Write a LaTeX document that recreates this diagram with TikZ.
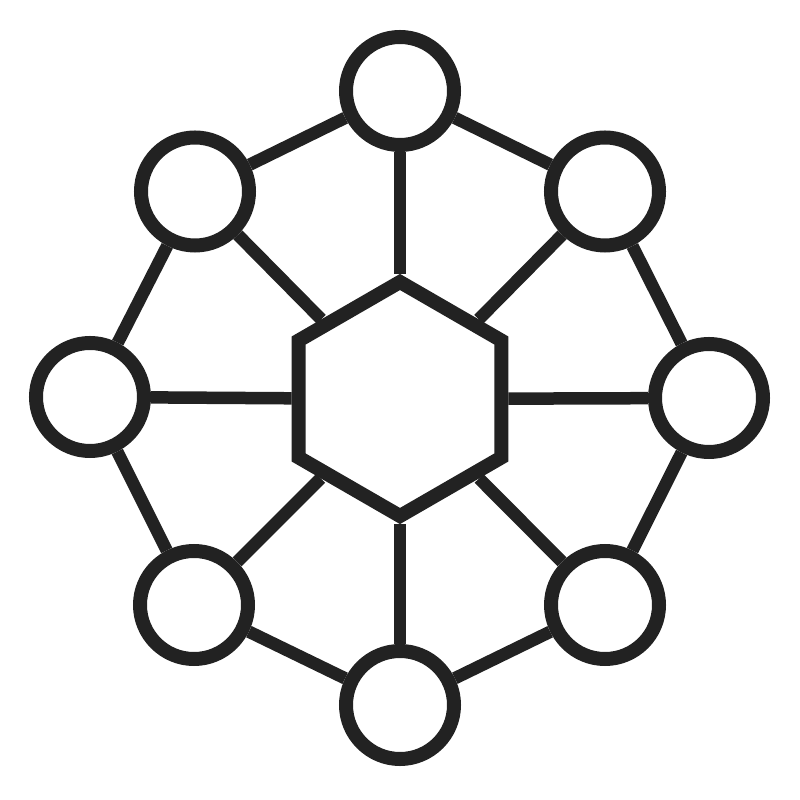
\documentclass[tikz,border=0pt]{standalone}
\usepackage{tikz}
\usetikzlibrary{shapes.geometric}
\definecolor{ink}{RGB}{34,34,34}

\begin{document}
\begin{tikzpicture}[scale=1,
  site/.style={circle,draw=ink,line width=0.14cm,minimum size=1.08cm,inner sep=0pt},
  hub/.style={regular polygon,regular polygon sides=6,shape border rotate=30,draw=ink,line width=0.14cm,minimum size=2.34cm,inner sep=0pt},
  link/.style={draw=ink,line width=0.125cm}]
\useasboundingbox (-4,-4.02) rectangle (4,3.98);
% centre
\node[hub] (hub) at (0,-0.01) {};
% ring of sites
\node[site] (top) at (0,3.07) {};
\node[site] (topright) at (2.05,2.065) {};
\node[site] (right) at (3.09,0) {};
\node[site] (botright) at (2.05,-2.07) {};
\node[site] (bot) at (0,-3.07) {};
\node[site] (botleft) at (-2.06,-2.07) {};
\node[site] (left) at (-3.1,0.01) {};
\node[site] (topleft) at (-2.05,2.065) {};
% ring
\foreach \a/\b in {top/topright,topright/right,right/botright,botright/bot,bot/botleft,botleft/left,left/topleft,topleft/top}
  \draw[link] (\a)--(\b);
% spokes
\foreach \s in {top,topright,right,botright,bot,botleft,left,topleft}
  \draw[link] (hub)--(\s);
\end{tikzpicture}
\end{document}
